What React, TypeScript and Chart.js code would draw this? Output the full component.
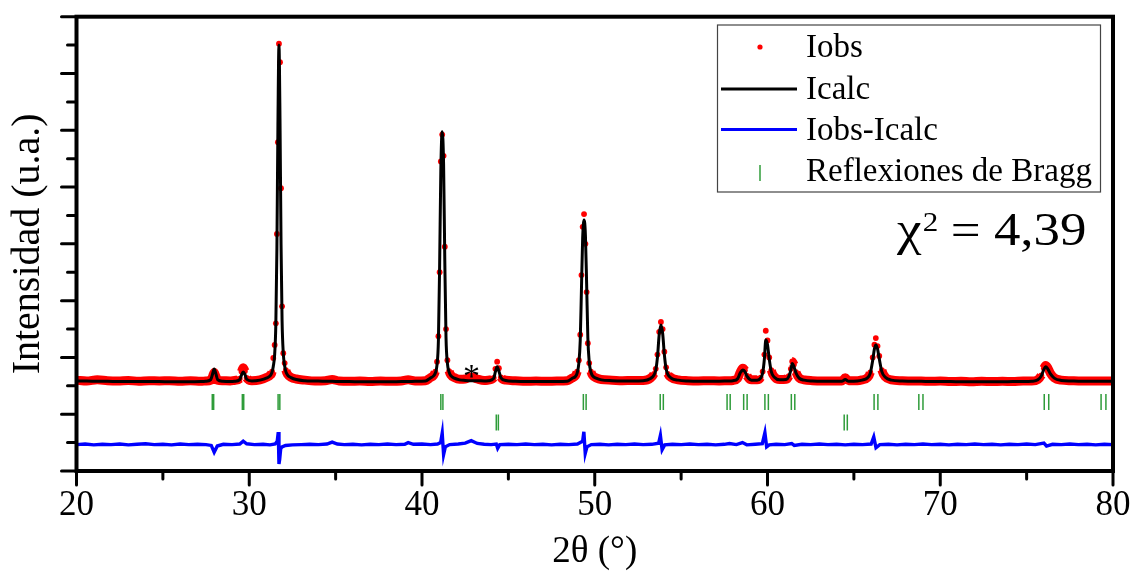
import { useEffect, useRef } from 'react';
import { Chart, registerables } from 'chart.js';

Chart.register(...registerables);

// ---- data ----
const twoTheta = [
  20, 20.6, 21.2, 21.8, 22.4, 23.0, 23.6, 24.2, 24.8, 25.4, 26.0, 26.6, 27.2,
  27.47, 27.77, 27.87, 27.97, 28.07, 28.17, 28.47,
  28.9,
  29.15, 29.45, 29.55, 29.65, 29.75, 29.85, 30.15,
  30.62, 31.02, 31.22, 31.32, 31.39, 31.47, 31.54, 31.6, 31.66, 31.72, 31.78, 31.84, 31.9, 31.97, 32.05, 32.12, 32.22, 32.42, 32.72, 33.22,
  33.8, 34.4, 34.8, 35.2, 35.8, 36.4, 37.0, 37.6, 38.2, 38.8, 39.2, 39.6, 40.2,
  40.47, 40.67, 40.77, 40.87, 40.95, 41.02, 41.09, 41.17, 41.25, 41.32, 41.39, 41.47, 41.57, 41.67, 41.87, 42.17,
  42.5, 42.85, 43.2, 43.6,
  43.85, 44.15, 44.25, 44.35, 44.45, 44.57, 44.85,
  45.4, 46.0, 46.6, 47.2, 47.8, 48.4,
  48.68, 48.88, 48.98, 49.08, 49.16, 49.23, 49.3, 49.38, 49.46, 49.53, 49.6, 49.68, 49.78, 49.88, 50.08, 50.38,
  51.0, 51.6, 52.2, 52.8,
  53.23, 53.43, 53.53, 53.63, 53.73, 53.83, 53.93, 54.03, 54.13, 54.23, 54.43, 54.83,
  55.4, 56.0, 56.6, 57.2, 57.7, 58.0,
  58.27, 58.42, 58.57, 58.69, 58.82, 59.07,
  59.4, 59.6, 59.72, 59.82, 59.9, 60.0, 60.1, 60.22, 60.4, 60.7,
  61.08, 61.23, 61.35, 61.43, 61.53, 61.65, 61.83, 62.13,
  62.6, 63.2, 63.8, 64.3, 64.5, 64.7, 65.2,
  65.47, 65.77, 65.95, 66.09, 66.19, 66.27, 66.37, 66.47, 66.62, 66.82, 67.17,
  67.8, 68.4, 68.9, 69.4, 70.0, 70.6, 71.2, 71.8, 72.4, 73.0, 73.6, 74.2, 74.8, 75.3,
  75.65, 75.85, 76.0, 76.1, 76.22, 76.38, 76.6, 77.0,
  77.6, 78.2, 78.8, 79.4, 80,
];

const iCalc = [
  3.17, 3.17, 3.16, 3.16, 3.15, 3.15, 3.15, 3.15, 3.15, 3.14, 3.14, 3.14, 3.15,
  3.16, 3.22, 3.40, 3.59, 3.42, 3.22, 3.16,
  3.15,
  3.16, 3.22, 3.38, 3.49, 3.40, 3.23, 3.17,
  3.20, 3.28, 3.36, 3.48, 3.68, 4.10, 5.20, 7.80, 12.20, 15.00, 12.40, 8.00, 5.30, 4.15, 3.70, 3.50, 3.38, 3.29, 3.22, 3.18,
  3.17, 3.16, 3.16, 3.15, 3.15, 3.14, 3.14, 3.14, 3.14, 3.15, 3.15, 3.16, 3.17,
  3.27, 3.35, 3.45, 3.75, 4.60, 7.20, 10.60, 11.95, 10.80, 7.40, 4.70, 3.80, 3.48, 3.36, 3.27, 3.21,
  3.19, 3.18, 3.18, 3.17,
  3.18, 3.26, 3.50, 3.67, 3.52, 3.28, 3.19,
  3.16, 3.15, 3.15, 3.15, 3.15, 3.16,
  3.26, 3.33, 3.45, 3.80, 4.60, 6.40, 8.20, 8.84, 8.30, 6.60, 4.70, 3.85, 3.48, 3.35, 3.27, 3.21,
  3.18, 3.17, 3.17, 3.18,
  3.26, 3.38, 3.55, 4.00, 4.80, 5.14, 4.85, 4.10, 3.60, 3.40, 3.27, 3.20,
  3.17, 3.16, 3.16, 3.16, 3.17, 3.18,
  3.25, 3.45, 3.56, 3.50, 3.33, 3.20,
  3.20, 3.27, 3.45, 3.95, 4.61, 4.45, 3.95, 3.50, 3.30, 3.21,
  3.22, 3.32, 3.55, 3.79, 3.68, 3.45, 3.27, 3.20,
  3.17, 3.16, 3.16, 3.16, 3.22, 3.16, 3.17,
  3.20, 3.27, 3.45, 3.90, 4.30, 4.44, 4.30, 3.95, 3.50, 3.30, 3.20,
  3.17, 3.16, 3.16, 3.15, 3.15, 3.15, 3.14, 3.14, 3.14, 3.14, 3.14, 3.15, 3.15, 3.16,
  3.21, 3.35, 3.58, 3.67, 3.60, 3.42, 3.27, 3.19,
  3.17, 3.16, 3.16, 3.16, 3.16,
];

const iObs = [
  3.20, 3.17, 3.21, 3.18, 3.17, 3.19, 3.16, 3.18, 3.17, 3.18, 3.16, 3.18, 3.16,
  3.17, 3.20, 3.32, 3.47, 3.33, 3.20, 3.18,
  3.17,
  3.19, 3.25, 3.50, 3.64, 3.52, 3.28, 3.18,
  3.21, 3.30, 3.38, 3.50, 3.98, 4.44, 5.20, 8.35, 11.58, 15.05, 14.40, 9.96, 5.80, 4.15, 3.80, 3.55, 3.40, 3.30, 3.24, 3.20,
  3.17, 3.18, 3.22, 3.17, 3.16, 3.17, 3.15, 3.17, 3.16, 3.17, 3.21, 3.17, 3.18,
  3.28, 3.37, 3.50, 3.85, 4.75, 7.00, 10.90, 11.85, 11.10, 7.90, 5.00, 3.90, 3.52, 3.38, 3.29, 3.23,
  3.24, 3.31, 3.24, 3.19,
  3.20, 3.28, 3.60, 3.85, 3.62, 3.30, 3.20,
  3.18, 3.16, 3.17, 3.16, 3.17, 3.18,
  3.27, 3.35, 3.50, 3.90, 4.80, 6.90, 8.60, 9.05, 8.00, 6.30, 4.50, 3.80, 3.50, 3.36, 3.28, 3.22,
  3.20, 3.18, 3.19, 3.19,
  3.27, 3.42, 3.60, 4.10, 4.90, 5.25, 5.00, 4.20, 3.65, 3.42, 3.29, 3.21,
  3.18, 3.17, 3.18, 3.17, 3.18, 3.19,
  3.26, 3.48, 3.62, 3.55, 3.35, 3.21,
  3.21, 3.29, 3.50, 4.10, 4.94, 4.60, 4.00, 3.55, 3.32, 3.22,
  3.23, 3.34, 3.60, 3.86, 3.75, 3.48, 3.28, 3.21,
  3.18, 3.17, 3.17, 3.17, 3.28, 3.18, 3.18,
  3.21, 3.28, 3.47, 4.00, 4.45, 4.68, 4.40, 4.05, 3.55, 3.31, 3.21,
  3.18, 3.17, 3.17, 3.16, 3.17, 3.15, 3.16, 3.14, 3.16, 3.15, 3.16, 3.15, 3.17, 3.17,
  3.22, 3.37, 3.62, 3.72, 3.64, 3.44, 3.28, 3.20,
  3.18, 3.17, 3.17, 3.17, 3.17,
];

const diffTheta = [
  20, 20.5, 21, 21.5, 22, 22.5, 23, 23.5, 24, 24.5, 25, 25.5, 26, 26.5, 27, 27.5,
  27.8, 27.97, 28.15, 28.5, 29, 29.45, 29.65, 29.85, 30.3, 30.8, 31.2, 31.5,
  31.62, 31.68, 31.72, 31.76, 31.82, 31.9, 32.1, 32.5, 33, 33.5, 34, 34.5, 34.8, 35.1,
  35.5, 36, 36.5, 37, 37.5, 38, 38.5, 39, 39.2, 39.5, 40, 40.5, 40.9,
  41.08, 41.17, 41.25, 41.35, 41.6, 42.1, 42.5, 42.85, 43.2, 43.6, 44.0, 44.3, 44.38, 44.5,
  45, 45.5, 46, 46.5, 47, 47.5, 48, 48.5, 49, 49.3, 49.37, 49.45, 49.55, 49.8,
  50.3, 50.8, 51.3, 51.8, 52.3, 52.8, 53.3, 53.7, 53.8, 53.9, 54.05, 54.5,
  55, 55.5, 56, 56.5, 57, 57.5, 57.8, 58.2, 58.55, 58.8, 59.3, 59.7, 59.85, 59.95, 60.1,
  60.5, 61, 61.4, 61.55, 62, 62.5, 63, 63.5, 64, 64.5, 65, 65.5, 66.0, 66.15, 66.28, 66.5,
  67, 67.5, 68, 68.5, 69, 69.5, 70, 70.5, 71, 71.5, 72, 72.5, 73, 73.5, 74, 74.5, 75, 75.5,
  76.0, 76.15, 76.5, 77, 77.5, 78, 78.5, 79, 79.5, 80,
];

const iDiff = [
  0.93, 0.95, 0.92, 0.94, 0.93, 0.95, 0.92, 0.94, 0.96, 0.93, 0.94, 0.92, 0.95, 0.93, 0.94, 0.93,
  0.90, 0.66, 0.88, 0.94, 0.93, 0.95, 1.05, 0.96, 0.93, 0.94, 0.92, 0.95,
  1.05, 1.37, 0.25, 0.40, 0.78, 0.85, 0.90, 0.92, 0.93, 0.94, 0.93, 0.95, 1.02, 0.95,
  0.93, 0.94, 0.92, 0.94, 0.93, 0.95, 0.93, 0.94, 1.00, 0.94, 0.95, 0.93, 0.95,
  1.00, 1.33, 0.58, 0.85, 0.93, 0.95, 0.98, 1.07, 0.97, 0.94, 0.93, 0.95, 0.80, 0.93,
  0.94, 0.93, 0.95, 0.93, 0.94, 0.92, 0.94, 0.93, 0.95, 1.05, 1.38, 0.62, 0.85, 0.93,
  0.94, 0.92, 0.94, 0.93, 0.95, 0.93, 0.94, 0.98, 1.25, 0.75, 0.92, 0.94,
  0.93, 0.95, 0.93, 0.94, 0.92, 0.94, 0.97, 0.93, 1.00, 0.92, 0.94, 0.96, 1.35, 0.85, 0.92,
  0.94, 0.93, 0.97, 0.90, 0.94, 0.93, 0.95, 0.93, 0.94, 0.92, 0.94, 0.93, 0.95, 1.20, 0.82, 0.93,
  0.94, 0.92, 0.94, 0.93, 0.95, 0.93, 0.94, 0.92, 0.94, 0.93, 0.95, 0.93, 0.94, 0.92, 0.94, 0.93, 0.95, 0.93,
  0.98, 0.88, 0.94, 0.93, 0.95, 0.93, 0.94, 0.92, 0.94, 0.93,
];

// Bragg reflection positions (Kα1 / Kα2 pairs), two phases
const braggPhase1 = [
  27.86, 27.94, 29.6, 29.68, 31.67, 31.77, 41.09, 41.21, 49.34, 49.5, 53.79, 53.97,
  57.66, 57.84, 58.62, 58.82, 59.85, 60.05, 61.38, 61.58, 66.17, 66.39, 68.76, 69.0,
  76.02, 76.28, 79.31, 79.59,
];
const braggPhase2 = [44.3, 44.42, 64.44, 64.62];
const braggLevel1 = 2.43;
const braggLevel2 = 1.71;

const starPosition = { x: 42.87, y: 3.7 };
const chiText = { sym: 'χ', sup: '2', rest: '= 4,39' };
const legendLabels = ['Iobs', 'Icalc', 'Iobs-Icalc', 'Reflexiones de Bragg'];

const xMin = 20, xMax = 80, xStep = 5;
const yMin = 0, yMax = 16, yStep = 1;

const SERIF = '"Liberation Serif", "Times New Roman", Times, "DejaVu Serif", serif';
const RED = '#ff0000';
const BLUE = '#0000ff';
const GREEN = '#2f9c3a';

const decor = {
  id: 'decor',
  afterDatasetsDraw(chart: any) {
    const { ctx, chartArea: a, scales } = chart;
    const xs = scales.x, ys = scales.y;
    ctx.save();
    // asterisk
    ctx.fillStyle = '#000';
    ctx.font = `34px ${SERIF}`;
    ctx.textAlign = 'center';
    ctx.textBaseline = 'alphabetic';
    ctx.fillText('*', xs.getPixelForValue(starPosition.x), ys.getPixelForValue(starPosition.y) + 21);

    // frame
    ctx.strokeStyle = '#000';
    ctx.lineWidth = 4;
    ctx.strokeRect(a.left, a.top, a.right - a.left, a.bottom - a.top);
    // ticks
    ctx.lineWidth = 3;
    ctx.lineCap = 'round';
    ctx.beginPath();
    for (const t of ys.ticks) {
      const py = ys.getPixelForValue(t.value);
      const len = Math.round(t.value) % 2 === 0 ? 15 : 9;
      ctx.moveTo(a.left - len, py);
      ctx.lineTo(a.left, py);
    }
    for (const t of xs.ticks) {
      const px = xs.getPixelForValue(t.value);
      const len = Math.round(t.value) % 10 === 0 ? 14 : 8;
      ctx.moveTo(px, a.bottom);
      ctx.lineTo(px, a.bottom + len);
    }
    ctx.stroke();
    ctx.restore();
  },
  afterDraw(chart: any) {
    const { ctx } = chart;
    ctx.save();
    // legend box
    const bx = 717.5, by = 25, bw = 383, bh = 167;
    ctx.strokeStyle = '#444';
    ctx.lineWidth = 1.2;
    ctx.strokeRect(bx, by, bw, bh);
    ctx.font = `33px ${SERIF}`;
    ctx.fillStyle = '#000';
    ctx.textAlign = 'left';
    ctx.textBaseline = 'alphabetic';
    const tx = 806;
    const rows = [57, 99, 140, 181];
    legendLabels.forEach((l, i) => ctx.fillText(l, tx, rows[i]));
    // symbols
    ctx.fillStyle = RED;
    ctx.beginPath();
    ctx.arc(760, 47, 2.6, 0, Math.PI * 2);
    ctx.fill();
    ctx.lineWidth = 3;
    ctx.strokeStyle = '#000';
    ctx.beginPath(); ctx.moveTo(721, 89); ctx.lineTo(797, 89); ctx.stroke();
    ctx.strokeStyle = BLUE;
    ctx.beginPath(); ctx.moveTo(721, 129.5); ctx.lineTo(797, 129.5); ctx.stroke();
    ctx.strokeStyle = GREEN;
    ctx.lineWidth = 1.5;
    ctx.beginPath(); ctx.moveTo(760, 165); ctx.lineTo(760, 181); ctx.stroke();

    // chi-square (horizontally stretched like the original export)
    ctx.fillStyle = '#000';
    ctx.textAlign = 'left';
    ctx.translate(897, 245);
    ctx.scale(1.15, 1);
    ctx.font = `48px ${SERIF}`;
    ctx.fillText(chiText.sym, 0, 0);
    const w1 = ctx.measureText(chiText.sym).width;
    ctx.font = `27px ${SERIF}`;
    ctx.fillText(chiText.sup, w1 + 1, -14);
    const w2 = ctx.measureText(chiText.sup).width;
    ctx.font = `46px ${SERIF}`;
    ctx.fillText(chiText.rest, w1 + w2 + 12, 0);
    ctx.restore();
  },
};

export default function App() {
  const ref = useRef<HTMLCanvasElement>(null);
  useEffect(() => {
    let chart: any = null;
    let cancelled = false;
    const build = () => {
      if (cancelled || !ref.current) return;
      const obsData = twoTheta.map((x, i) => ({ x, y: iObs[i] }));
      const calcData = twoTheta.map((x, i) => ({ x, y: iCalc[i] }));
      const diffData = diffTheta.map((x, i) => ({ x, y: iDiff[i] }));
      const braggData = [
        ...braggPhase1.map((x) => ({ x, y: braggLevel1 })),
        ...braggPhase2.map((x) => ({ x, y: braggLevel2 })),
      ];
      chart = new Chart(ref.current, {
        type: 'scatter',
        data: {
          datasets: [
            {
              label: 'Icalc',
              data: calcData,
              showLine: true,
              borderColor: '#000',
              borderWidth: 3,
              pointRadius: 0,
              cubicInterpolationMode: 'monotone',
              order: 0,
            },
            {
              label: 'Iobs',
              data: obsData,
              showLine: true,
              borderColor: RED,
              borderWidth: 9,
              pointRadius: 2.9,
              pointBackgroundColor: RED,
              pointBorderWidth: 0,
              cubicInterpolationMode: 'monotone',
              segment: {
                borderColor: (c: any) =>
                  Math.abs(c.p1.y - c.p0.y) > 2.5 * Math.max(Math.abs(c.p1.x - c.p0.x), 1)
                    ? 'rgba(0,0,0,0)'
                    : RED,
              },
              order: 1,
            },
            {
              label: 'Iobs-Icalc',
              data: diffData,
              showLine: true,
              borderColor: BLUE,
              borderWidth: 3.4,
              pointRadius: 0,
              order: 2,
            },
            {
              label: 'Reflexiones de Bragg',
              data: braggData,
              showLine: false,
              pointStyle: 'line',
              rotation: 90,
              pointRadius: 8,
              borderColor: GREEN,
              pointBorderColor: GREEN,
              pointBorderWidth: 1.5,
              order: 3,
            },
          ],
        } as any,
        options: {
          responsive: false,
          animation: false,
          devicePixelRatio: 1,
          layout: { padding: { top: 16.7, right: 17, left: 0, bottom: 0 } },
          plugins: { legend: { display: false }, tooltip: { enabled: false } },
          events: [],
          scales: {
            x: {
              type: 'linear',
              min: xMin,
              max: xMax,
              grid: { display: false, drawTicks: false },
              border: { display: false },
              ticks: {
                stepSize: xStep,
                padding: 14,
                color: '#000',
                font: { family: SERIF, size: 35 },
                maxRotation: 0,
                autoSkip: false,
                callback: (v: any) => (Number(v) % 10 === 0 ? String(v) : ''),
              },
              title: {
                display: true,
                text: '2θ (°)',
                color: '#000',
                font: { family: SERIF, size: 37 },
                padding: { top: 0, bottom: 0 },
              },
              afterFit: (s: any) => {
                s.height = 103;
                s.paddingLeft = 0;
                s.paddingRight = 0;
              },
            },
            y: {
              type: 'linear',
              min: yMin,
              max: yMax,
              grid: { display: false, drawTicks: false },
              border: { display: false },
              ticks: { stepSize: yStep, display: false },
              title: {
                display: true,
                text: 'Intensidad (u.a.)',
                color: '#000',
                font: { family: SERIF, size: 40 },
                padding: { top: 4, bottom: 0 },
              },
              afterFit: (s: any) => {
                s.width = 76.5;
              },
            },
          },
        } as any,
        plugins: [decor],
      });
    };
    const fonts: any = (document as any).fonts;
    if (fonts && fonts.load) {
      Promise.all([
        fonts.load(`35px "Liberation Serif"`),
        fonts.load(`35px "Times New Roman"`),
      ]).then(build, build);
    } else {
      build();
    }
    return () => {
      cancelled = true;
      if (chart) chart.destroy();
    };
  }, []);
  return (
    <div style={{ position: 'absolute', left: 0, top: 0, width: 1130, height: 574, background: '#fff' }}>
      <canvas ref={ref} width={1130} height={574} style={{ display: 'block' }} />
      <span style={{ position: 'absolute', left: -9999, top: 0, fontFamily: SERIF, fontSize: 20 }}>Iobs 2θ</span>
    </div>
  );
}
